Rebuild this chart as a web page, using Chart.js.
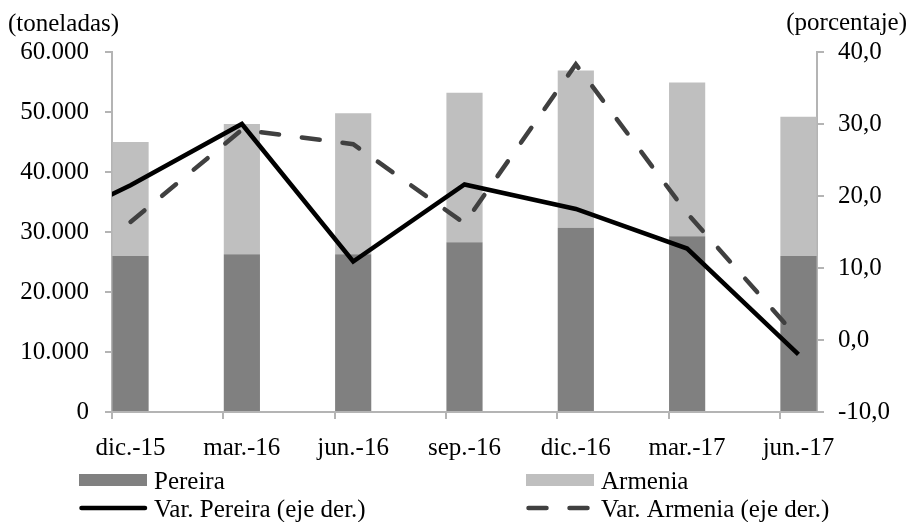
<!DOCTYPE html>
<html>
<head>
<meta charset="utf-8">
<script src="https://cdn.jsdelivr.net/npm/chart.js@4.4.1/dist/chart.umd.min.js"></script>
<style>
  body { margin: 0; background: #fff; }
  #wrap { position: relative; width: 912px; height: 522px; }
</style>
</head>
<body>
<div id="wrap"><canvas id="chart"></canvas></div>
<script>
// quarterly data, plotted on a monthly axis (3 months per step)
const categories = ["dic.-15", "mar.-16", "jun.-16", "sep.-16", "dic.-16", "mar.-17", "jun.-17"];
const pereira = [26000, 26300, 26300, 28300, 30700, 29300, 26000];
const armenia = [19000, 21700, 23500, 24900, 26200, 25600, 23200];
const varPereira = [21.5, 30.0, 10.9, 21.6, 18.2, 12.7, -2.0];
const varArmenia = [16.4, 29.2, 27.2, 16.2, 38.3, 17.6, 0.2];
// sep.-15 value of the Pereira line, only its tail shows left of the axis
const varPereiraPrev = 14.0;

const tonTicks = [0, 10000, 20000, 30000, 40000, 50000, 60000];
const pctTicks = [-10, 0, 10, 20, 30, 40];

const monthsPerStep = 3;
const xAt = i => i * monthsPerStep + 0.5;

const FONT = { family: "Liberation Serif", size: 25 };
const AXIS = "#b4b4b4";

const fmtTon = v => String(v).replace(/\B(?=(\d{3})+(?!\d))/g, ".");
const fmtPct = v => v.toFixed(1).replace(".", ",");

// axis captions on top + legend in two columns below the axis
const extras = {
  id: "extras",
  afterDraw(chart) {
    const ctx = chart.ctx;
    ctx.save();
    ctx.font = '25px "Liberation Serif"';
    ctx.fillStyle = "#000";
    ctx.textBaseline = "alphabetic";
    ctx.textAlign = "left";
    ctx.fillText("(toneladas)", 8, 31);
    ctx.textAlign = "right";
    ctx.fillText("(porcentaje)", 907, 30);

    const cols = [79, 526];
    const rows = [480, 508];
    const order = [0, 1, 3, 2]; // Pereira, Armenia, Var. Pereira, Var. Armenia
    ctx.textAlign = "left";
    order.forEach((di, k) => {
      const ds = chart.data.datasets[di];
      const x = cols[k % 2];
      const y = rows[Math.floor(k / 2)];
      if (ds.type === "bar") {
        ctx.fillStyle = ds.backgroundColor;
        ctx.fillRect(x, y - 6, 68, 12);
      } else {
        ctx.strokeStyle = ds.borderColor;
        ctx.lineWidth = ds.borderWidth;
        ctx.lineCap = "round";
        ctx.setLineDash(ds.borderDash || []);
        ctx.beginPath();
        ctx.moveTo(x + 2.5, y);
        ctx.lineTo(x + 66, y);
        ctx.stroke();
        ctx.setLineDash([]);
      }
      ctx.fillStyle = "#000";
      ctx.fillText(ds.label, x + 75, y + 9);
    });
    ctx.restore();
  }
};

new Chart(document.getElementById("chart"), {
  type: "bar",
  data: {
    datasets: [
      {
        type: "bar", label: "Pereira",
        data: pereira.map((v, i) => ({ x: xAt(i), y: v })),
        backgroundColor: "#808080", yAxisID: "y", order: 2,
        barPercentage: 0.325, categoryPercentage: 1
      },
      {
        type: "bar", label: "Armenia",
        data: armenia.map((v, i) => ({ x: xAt(i), y: v })),
        backgroundColor: "#bfbfbf", yAxisID: "y", order: 2,
        barPercentage: 0.325, categoryPercentage: 1
      },
      {
        type: "line", label: "Var. Armenia (eje der.)",
        data: varArmenia.map((v, i) => ({ x: xAt(i), y: v })),
        borderColor: "#404040", borderWidth: 4.5, borderDash: [18, 23],
        borderCapStyle: "round", pointRadius: 0, tension: 0,
        yAxisID: "y1", order: 0
      },
      {
        type: "line", label: "Var. Pereira (eje der.)",
        data: [{ x: xAt(-1), y: varPereiraPrev }].concat(varPereira.map((v, i) => ({ x: xAt(i), y: v }))),
        borderColor: "#000000", borderWidth: 4.5, pointRadius: 0, tension: 0,
        yAxisID: "y1", order: 1, clip: 0
      }
    ]
  },
  options: {
    responsive: true,
    maintainAspectRatio: false,
    animation: false,
    layout: { padding: { top: 52, right: 0, bottom: 50, left: 0 } },
    plugins: { legend: { display: false }, tooltip: { enabled: false } },
    scales: {
      x: {
        type: "linear", min: 0, max: monthsPerStep * categories.length - 2,
        stacked: true, offset: false,
        afterBuildTicks: s => { s.ticks = categories.map((c, i) => ({ value: i * monthsPerStep })); },
        ticks: {
          autoSkip: false, maxRotation: 0, labelOffset: 18.5, padding: 14,
          color: "#000", font: FONT,
          callback: v => categories[v / monthsPerStep]
        },
        grid: { drawOnChartArea: false, offset: false, tickLength: 7, color: AXIS, lineWidth: 2 },
        border: { color: AXIS, width: 2 },
        afterFit: s => { s.height = 60; }
      },
      y: {
        position: "left", stacked: true, min: 0, max: 60000,
        afterBuildTicks: s => { s.ticks = tonTicks.map(v => ({ value: v })); },
        ticks: { padding: 16, color: "#000", font: FONT, callback: v => fmtTon(v) },
        grid: { drawOnChartArea: false, tickLength: 7, color: AXIS, lineWidth: 2 },
        border: { color: AXIS, width: 2 },
        afterFit: s => { s.width = 112; }
      },
      y1: {
        position: "right", min: -10, max: 40,
        afterBuildTicks: s => { s.ticks = pctTicks.map(v => ({ value: v })); },
        ticks: { padding: 14, color: "#000", font: FONT, callback: v => fmtPct(v) },
        grid: { drawOnChartArea: false, tickLength: 7, color: AXIS, lineWidth: 2 },
        border: { color: AXIS, width: 2 },
        afterFit: s => { s.width = 95; }
      }
    }
  },
  plugins: [extras]
});
</script>
</body>
</html>
